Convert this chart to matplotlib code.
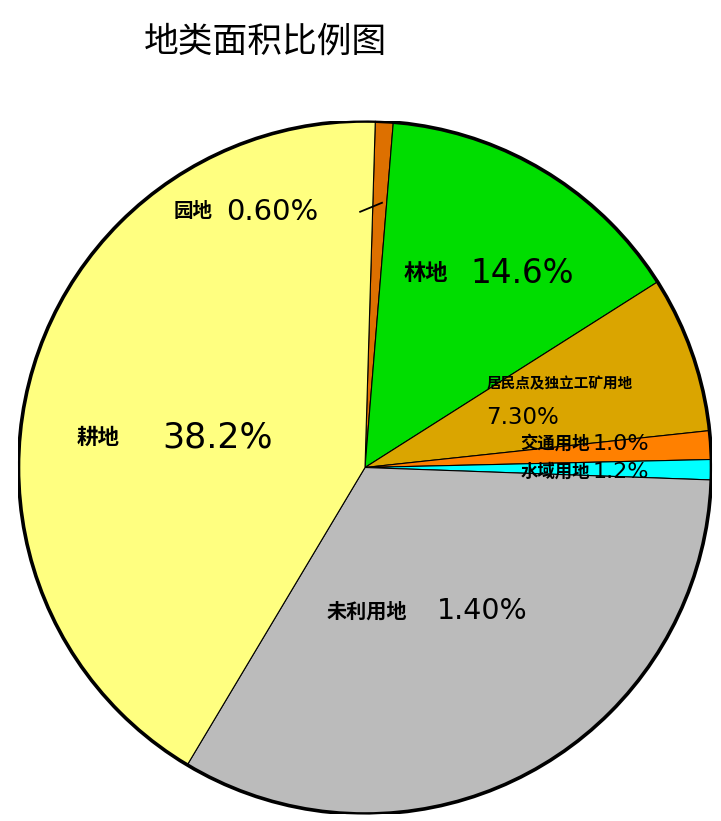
import matplotlib.pyplot as plt
from matplotlib.patches import Circle

plt.rcParams['font.family'] = ['Noto Sans CJK SC', 'DejaVu Sans']

# 数据（按顺时针顺序，从顶部开始）
categories = ['园地', '林地', '居民点及独立工矿用地', '交通用地', '水域用地', '未利用地', '耕地']
shares = [0.83, 14.7, 7.3, 1.33, 0.94, 33.0, 41.9]
label_pcts = ['0.60%', '14.6%', '7.30%', '1.0%', '1.2%', '1.40%', '38.2%']
colors = ['#DD7000', '#00DD00', '#DAA500', '#FF8000', '#00FFFF', '#BBBBBB', '#FFFF80']

fig = plt.figure(figsize=(7.21, 8.21), dpi=100)
ax = fig.add_axes([17 / 721, 7 / 821, 696 / 721, 693 / 821])

wedges, _ = ax.pie(shares, colors=colors, startangle=88.3, counterclock=False,
                   radius=1.0, wedgeprops=dict(edgecolor='black', linewidth=0.8))
ax.add_patch(Circle((0, 0), 1.0, fill=False, edgecolor='black', linewidth=2.6, zorder=5))
ax.set_xlim(-1.0, 1.0)
ax.set_ylim(-1.0, 1.0)
ax.set_aspect('equal')
ax.axis('off')

cjk = dict(fontweight='heavy', color='black', ha='left', va='center')
num = dict(family='DejaVu Sans', color='black', ha='left', va='center')

# 园地
ax.text(-0.553, 0.738, categories[0], fontsize=14, **cjk)
ax.text(-0.401, 0.738, label_pcts[0], fontsize=21, **num)
ax.plot([-0.014, 0.049], [0.738, 0.764], color='black', linewidth=1.3)

# 林地
ax.text(0.110, 0.559, categories[1], fontsize=16, **cjk)
ax.text(0.303, 0.559, label_pcts[1], fontsize=23.5, **num)

# 居民点及独立工矿用地
ax.text(0.352, 0.242, categories[2], fontsize=10.5, **cjk)
ax.text(0.349, 0.144, label_pcts[2], fontsize=16.5, **num)

# 交通用地
ax.text(0.447, 0.069, categories[3], fontsize=12.5, **cjk)
ax.text(0.657, 0.069, label_pcts[3], fontsize=16, **num)

# 水域用地
ax.text(0.450, -0.012, categories[4], fontsize=12.5, **cjk)
ax.text(0.657, -0.012, label_pcts[4], fontsize=16, **num)

# 未利用地
ax.text(-0.110, -0.415, categories[5], fontsize=14.5, **cjk)
ax.text(0.207, -0.415, label_pcts[5], fontsize=20.5, **num)

# 耕地
ax.text(-0.833, 0.086, categories[6], fontsize=15.5, **cjk)
ax.text(-0.585, 0.086, label_pcts[6], fontsize=25, **num)

fig.text(265 / 721, 1 - 42 / 821, '地类面积比例图', fontsize=25, ha='center', va='center')

fig.savefig('out.png', dpi=100)
